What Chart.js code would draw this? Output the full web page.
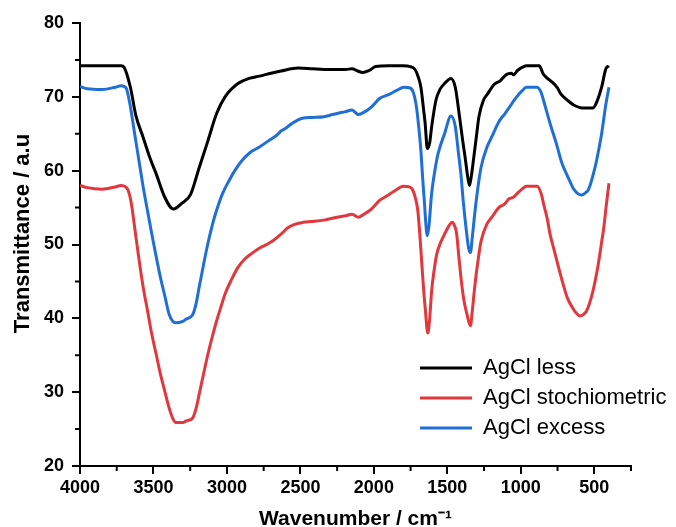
<!DOCTYPE html>
<html>
<head>
<meta charset="utf-8">
<title>FTIR AgCl</title>
<script src="https://cdn.jsdelivr.net/npm/chart.js@4.4.1/dist/chart.umd.min.js"></script>
<style>
  body { margin: 0; background: #fff; }
  canvas { display: block; }
</style>
</head>
<body>
<canvas id="ftirChart" width="676" height="527"></canvas>
<script>
// etiquetas de la leyenda
const seriesLabels = ['AgCl less', 'AgCl stochiometric', 'AgCl excess'];

// ticks de los ejes
const xTicks = [4000, 3500, 3000, 2500, 2000, 1500, 1000, 500];
const xMinorTicks = [3750, 3250, 2750, 2250, 1750, 1250, 750, 250];
const yTicks = [20, 30, 40, 50, 60, 70, 80];
const yMinorTicks = [25, 35, 45, 55, 65, 75];

// AgCl less (negro)
const lessWn = [4000, 3850, 3720, 3700, 3657, 3620, 3570, 3520, 3482, 3423, 3364, 3306, 3247, 3189, 3130, 3071, 3013, 2925, 2850, 2779, 2700, 2632, 2515, 2420, 2339, 2250, 2193, 2149, 2110, 2076, 2030, 1988, 1900, 1800, 1753, 1720, 1700, 1680, 1660, 1651, 1636, 1620, 1607, 1578, 1550, 1519, 1475, 1446, 1417, 1395, 1379, 1360, 1349, 1335, 1320, 1300, 1285, 1255, 1226, 1180, 1138, 1100, 1065, 1050, 1021, 980, 962, 874, 850, 830, 786, 750, 728, 680, 640, 582, 509, 479, 450, 421, 400];
const lessT = [74.2, 74.2, 74.2, 74.0, 71.3, 67.5, 64.5, 61.5, 59.6, 56.4, 54.8, 55.6, 56.8, 60.4, 64.0, 67.7, 70.0, 71.8, 72.5, 72.8, 73.2, 73.5, 73.9, 73.8, 73.7, 73.7, 73.7, 73.8, 73.5, 73.3, 73.6, 74.1, 74.2, 74.2, 74.1, 73.7, 72.8, 71.3, 68.0, 66.4, 63.0, 63.8, 65.9, 69.5, 71.0, 71.8, 72.5, 71.3, 67.3, 64.0, 61.8, 59.0, 58.0, 59.5, 61.8, 65.0, 67.3, 69.5, 70.4, 71.7, 72.2, 73.0, 73.2, 73.0, 73.6, 74.1, 74.2, 74.2, 73.2, 72.7, 72.0, 71.2, 70.4, 69.5, 68.9, 68.5, 68.5, 69.5, 71.3, 73.8, 74.2];

// AgCl stochiometric (rojo)
const stoWn = [4000, 3950, 3850, 3760, 3720, 3690, 3672, 3650, 3628, 3600, 3570, 3540, 3511, 3480, 3452, 3420, 3394, 3370, 3350, 3300, 3277, 3233, 3210, 3189, 3160, 3130, 3100, 3071, 3040, 3013, 2970, 2925, 2880, 2837, 2780, 2720, 2680, 2632, 2590, 2544, 2480, 2427, 2339, 2251, 2190, 2149, 2105, 2060, 2017, 1959, 1910, 1871, 1797, 1760, 1739, 1720, 1701, 1686, 1672, 1660, 1651, 1633, 1620, 1607, 1590, 1572, 1545, 1519, 1490, 1466, 1450, 1437, 1420, 1402, 1385, 1367, 1343, 1330, 1314, 1290, 1270, 1230, 1197, 1150, 1109, 1080, 1050, 1020, 992, 962, 889, 860, 845, 820, 801, 770, 743, 710, 684, 650, 626, 596, 570, 552, 509, 480, 465, 450, 435, 420, 400];
const stoT = [58.0, 57.7, 57.5, 57.8, 58.0, 57.8, 57.3, 55.5, 52.3, 48.2, 44.2, 41.0, 37.8, 35.0, 32.4, 29.9, 27.9, 26.5, 25.9, 25.9, 26.1, 26.5, 27.8, 29.7, 32.4, 35.1, 37.5, 39.6, 41.6, 43.3, 45.2, 46.9, 48.0, 48.7, 49.5, 50.1, 50.6, 51.4, 52.2, 52.7, 53.0, 53.1, 53.3, 53.7, 53.9, 54.1, 53.7, 54.2, 54.8, 56.0, 56.6, 57.1, 57.9, 57.8, 57.5, 56.5, 54.6, 51.0, 46.9, 43.5, 41.5, 38.0, 40.0, 43.7, 46.5, 48.7, 50.3, 51.4, 52.5, 53.0, 52.5, 51.5, 48.0, 44.6, 42.2, 40.6, 39.0, 41.0, 44.2, 48.0, 50.5, 52.8, 53.7, 55.0, 55.5, 56.2, 56.4, 57.0, 57.5, 57.9, 57.9, 56.8, 55.5, 53.5, 51.4, 49.0, 46.9, 44.5, 42.8, 41.5, 40.8, 40.3, 40.6, 41.0, 43.7, 46.5, 48.3, 50.3, 52.3, 55.0, 58.3];

// AgCl excess (azul)
const excWn = [4000, 3950, 3850, 3760, 3720, 3687, 3660, 3628, 3600, 3570, 3540, 3511, 3480, 3452, 3420, 3394, 3350, 3300, 3277, 3233, 3210, 3189, 3160, 3130, 3100, 3071, 3030, 2984, 2940, 2896, 2840, 2779, 2720, 2661, 2630, 2603, 2550, 2486, 2420, 2339, 2281, 2193, 2149, 2105, 2060, 2017, 1959, 1900, 1841, 1797, 1753, 1730, 1710, 1695, 1680, 1668, 1657, 1645, 1636, 1625, 1607, 1585, 1563, 1519, 1475, 1446, 1425, 1408, 1390, 1373, 1355, 1343, 1330, 1314, 1290, 1270, 1230, 1197, 1150, 1109, 1070, 1036, 992, 962, 889, 860, 845, 801, 757, 720, 699, 660, 640, 587, 560, 538, 494, 470, 450, 421, 400];
const excT = [71.4, 71.1, 71.0, 71.3, 71.5, 71.2, 69.0, 65.0, 61.5, 57.8, 54.5, 51.4, 48.2, 45.5, 42.8, 40.6, 39.4, 39.6, 39.9, 40.5, 42.0, 44.2, 47.2, 50.1, 52.6, 54.6, 56.9, 58.7, 60.2, 61.4, 62.5, 63.2, 64.0, 64.8, 65.4, 65.7, 66.5, 67.1, 67.2, 67.3, 67.6, 68.0, 68.2, 67.6, 68.0, 68.6, 69.8, 70.3, 70.9, 71.3, 71.2, 70.5, 68.6, 66.0, 62.7, 59.0, 56.0, 52.5, 51.2, 52.5, 56.9, 60.0, 62.3, 65.0, 67.4, 66.0, 62.5, 59.6, 55.5, 52.3, 49.5, 48.9, 51.0, 54.1, 58.0, 60.5, 63.2, 64.6, 66.6, 67.7, 68.8, 69.8, 70.8, 71.3, 71.3, 70.5, 69.5, 66.4, 63.6, 61.0, 60.0, 58.3, 57.5, 56.7, 57.0, 57.5, 60.5, 62.8, 65.0, 69.0, 71.3];

const seriesColors = ['#000000', '#e2373c', '#1f6fd6'];

const toPoints = (wn, t) => wn.map((x, i) => ({ x: x, y: t[i] }));

// ticks menores (el v4 no los trae)
const minorTicksPlugin = {
    id: 'minorTicks',
    afterDraw(chart) {
        const ctx = chart.ctx;
        const xs = chart.scales.x;
        const ys = chart.scales.y;
        ctx.save();
        ctx.strokeStyle = '#000';
        ctx.lineWidth = 2;
        ctx.beginPath();
        xMinorTicks.forEach(v => {
            const px = xs.getPixelForValue(v);
            ctx.moveTo(px, xs.top);
            ctx.lineTo(px, xs.top + 5);
        });
        yMinorTicks.forEach(v => {
            const py = ys.getPixelForValue(v);
            ctx.moveTo(ys.right, py);
            ctx.lineTo(ys.right - 5, py);
        });
        ctx.stroke();
        ctx.restore();
    }
};

// mover la leyenda abajo a la derecha dentro del area
const legendPosPlugin = {
    id: 'legendPos',
    afterUpdate(chart) {
        const lg = chart.legend;
        if (!lg) return;
        lg.left = 412;
        lg.top = 349;
        lg.width = 262;
        lg.height = 110;
        lg.right = lg.left + lg.width;
        lg.bottom = lg.top + lg.height;
    }
};

const tickFont = { family: "'Liberation Sans', Arial, sans-serif", size: 18, weight: 'bold' };

new Chart(document.getElementById('ftirChart'), {
    type: 'line',
    data: {
        datasets: [
            { label: seriesLabels[0], data: toPoints(lessWn, lessT) },
            { label: seriesLabels[1], data: toPoints(stoWn, stoT) },
            { label: seriesLabels[2], data: toPoints(excWn, excT) }
        ].map((d, i) => Object.assign(d, {
            borderColor: seriesColors[i],
            backgroundColor: seriesColors[i],
            borderWidth: 3,
            pointRadius: 0,
            cubicInterpolationMode: 'monotone',
            fill: false
        }))
    },
    options: {
        responsive: false,
        animation: false,
        layout: { padding: { top: 23, right: 45, left: 0, bottom: 0 } },
        scales: {
            x: {
                type: 'linear',
                reverse: true,
                min: 250,
                max: 4000,
                afterBuildTicks: s => { s.ticks = xTicks.map(v => ({ value: v })); },
                afterFit: s => { s.height = 61; },
                ticks: { font: tickFont, color: '#000', padding: 3, maxRotation: 0, autoSkip: false, callback: v => String(v) },
                grid: { drawOnChartArea: false, drawTicks: true, tickLength: 8, color: '#000', lineWidth: 2 },
                border: { display: true, color: '#000', width: 2 },
                title: {
                    display: true,
                    text: 'Wavenumber / cm\u207B\u00B9',
                    color: '#000',
                    font: { family: "'Liberation Sans', Arial, sans-serif", size: 21, weight: 'bold', lineHeight: 0.75 },
                    padding: { top: 0, bottom: 0 }
                }
            },
            y: {
                min: 20,
                max: 80,
                afterBuildTicks: s => { s.ticks = yTicks.map(v => ({ value: v })); },
                afterFit: s => { s.width = 80; },
                ticks: { font: tickFont, color: '#000', padding: 8, callback: v => String(v) },
                grid: { drawOnChartArea: false, drawTicks: true, tickLength: 8, color: '#000', lineWidth: 2 },
                border: { display: true, color: '#000', width: 2 },
                title: {
                    display: true,
                    text: '\u2003Transmittance / a.u',
                    color: '#000',
                    font: { family: "'Liberation Sans', Arial, sans-serif", size: 22, weight: 'bold', lineHeight: 1.2 },
                    padding: { top: 10, bottom: 0 }
                }
            }
        },
        plugins: {
            tooltip: { enabled: false },
            legend: {
                position: 'chartArea',
                align: 'start',
                labels: {
                    usePointStyle: true,
                    pointStyle: 'line',
                    pointStyleWidth: 52,
                    color: '#000',
                    padding: 8,
                    font: { family: "'Liberation Sans', Arial, sans-serif", size: 22 }
                }
            }
        }
    },
    plugins: [minorTicksPlugin, legendPosPlugin]
});
</script>
</body>
</html>
